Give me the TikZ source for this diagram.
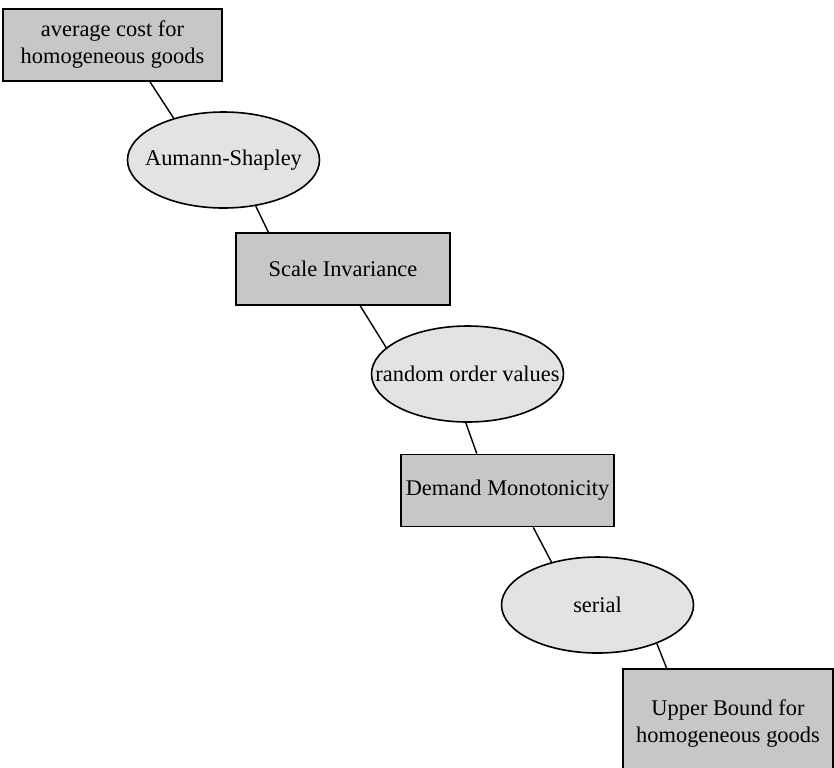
\documentclass[tikz,border=0pt]{standalone}
\usepackage{fontspec}
\setmainfont{Liberation Serif}
\usetikzlibrary{shapes.geometric, calc, positioning}
\definecolor{boxgrey}{gray}{0.78}
\definecolor{ovalgrey}{gray}{0.89}

\begin{document}
\begin{tikzpicture}[x=0.5pt, y=-0.5pt,
        box/.style={draw, line width=0.9pt, fill=boxgrey, inner sep=0pt, align=center,
            minimum width=107pt, minimum height=36pt, font=\fontsize{11.2}{13.5}\selectfont},
        oval/.style={ellipse, draw, line width=0.8pt, fill=ovalgrey, inner sep=0pt,
            minimum width=96pt, minimum height=48pt, font=\fontsize{11.2}{13.5}\selectfont},
        link/.style={line width=0.7pt}]
                    \clip (0, 0) rectangle (834, 767);
                    \fill [white] (0, 0) rectangle (834, 767);

                    \node [box, minimum width=109.5pt] (Bavg) at (112.5, 45) {average cost for\\homogeneous goods};
                    \node [oval] (Eas) at (223.5, 160) {\makebox[0pt]{Aumann-Shapley}};
                    \node [box] (Bsi) at (343, 269) {Scale Invariance};
                    \node [oval] (Ero) at (467.5, 374) {\makebox[0pt]{random order values}};
                    \node [box, minimum width=106.5pt] (Bdm) at (507.5, 490.5) {Demand Monotonicity};
                    \node [oval] (Eser) at (597.5, 605) {\makebox[0pt]{serial}};
                    \node [box, minimum width=105pt, minimum height=55pt] (Bub) at (728, 724) {Upper Bound for\\homogeneous goods};

                    \draw [link] ($(Bavg.south west)!0.67!(Bavg.south east)$) -- (Eas.140);
                    \draw [link] (Eas.-55) -- ($(Bsi.north west)!0.154!(Bsi.north east)$);
                    \draw [link] ($(Bsi.south west)!0.58!(Bsi.south east)$) -- (Ero.162);
                    \draw [link] (Ero.-92) -- ($(Bdm.north west)!0.357!(Bdm.north east)$);
                    \draw [link] ($(Bdm.south west)!0.62!(Bdm.south east)$) -- (Eser.137);
                    \draw [link] (Eser.-33) -- ($(Bub.north west)!0.21!(Bub.north east)$);
            \end{tikzpicture}
\end{document}
